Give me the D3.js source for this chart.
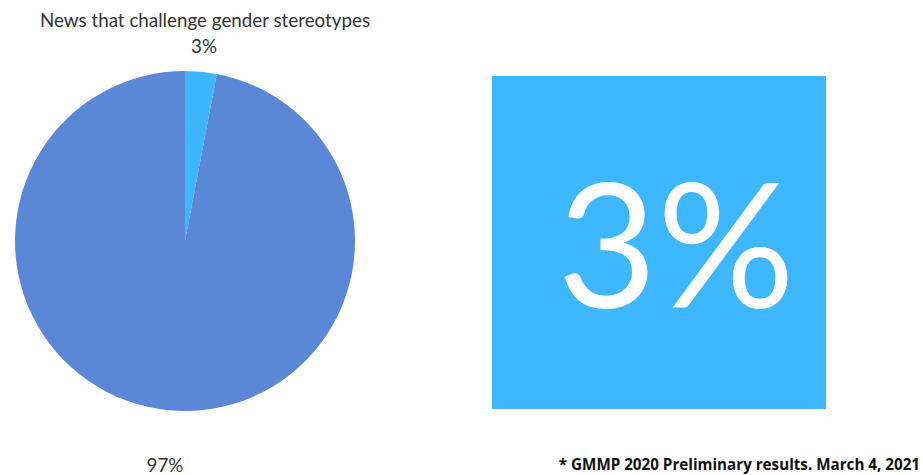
<!DOCTYPE html>
<html>
<head>
<meta charset="utf-8">
<script src="https://cdn.jsdelivr.net/npm/d3@7"></script>
<style>
  body { margin: 0; background: #fff; }
  svg { display: block; }
</style>
</head>
<body>
<div id="chart"></div>
<script>
// data
var categories = ["Challenges stereotypes", "Does not challenge"];
var shares = [3, 97];
var sliceLabels = ["3%", "97%"];
var colors = ["#3db5ff", "#5b87d7"];
var chartTitle = "News that challenge gender stereotypes";
var bigNumber = "3%";
var footnote = "* GMMP 2020 Preliminary results. March 4, 2021";

var width = 923, height = 475;

var svg = d3.select("#chart").append("svg")
    .attr("width", width)
    .attr("height", height);

// pie on the left
var cx = 185, cy = 241, r = 170;

var pie = d3.pie().sort(null).value(function (d) { return d; });
var arc = d3.arc().innerRadius(0).outerRadius(r);

var arcs = pie(shares);

var g = svg.append("g")
    .attr("transform", "translate(" + cx + "," + cy + ")");

g.selectAll("path")
    .data(arcs)
    .join("path")
    .attr("d", arc)
    .attr("fill", function (d, i) { return colors[i]; });

svg.append("text")
    .attr("x", 205)
    .attr("y", 27)
    .attr("text-anchor", "middle")
    .attr("font-family", "Lato, sans-serif")
    .attr("font-size", 18.8)
    .attr("fill", "#333")
    .text(chartTitle);

// slice labels: small one above, big one below
svg.append("text")
    .attr("x", 204)
    .attr("y", 53)
    .attr("text-anchor", "middle")
    .attr("font-family", "Lato, sans-serif")
    .attr("font-size", 18.8)
    .attr("fill", "#333")
    .text(sliceLabels[0]);

svg.append("text")
    .attr("x", 165)
    .attr("y", 472)
    .attr("text-anchor", "middle")
    .attr("font-family", "Lato, sans-serif")
    .attr("font-size", 18.8)
    .attr("fill", "#333")
    .text(sliceLabels[1]);

// big square with the headline figure
svg.append("rect")
    .attr("x", 492)
    .attr("y", 76)
    .attr("width", 334)
    .attr("height", 333)
    .attr("fill", "#3db7ff");

svg.append("text")
    .attr("x", 676)
    .attr("y", 308)
    .attr("text-anchor", "middle")
    .attr("font-family", "Lato, sans-serif")
    .attr("font-weight", 400)
    .attr("font-size", 172)
    .attr("fill", "#fff")
    .text(bigNumber);

svg.append("text")
    .attr("x", 920)
    .attr("y", 470)
    .attr("text-anchor", "end")
    .attr("font-family", "'Open Sans', sans-serif")
    .attr("font-weight", 700)
    .attr("font-size", 15.2)
    .attr("fill", "#111")
    .text(footnote);
</script>
</body>
</html>
